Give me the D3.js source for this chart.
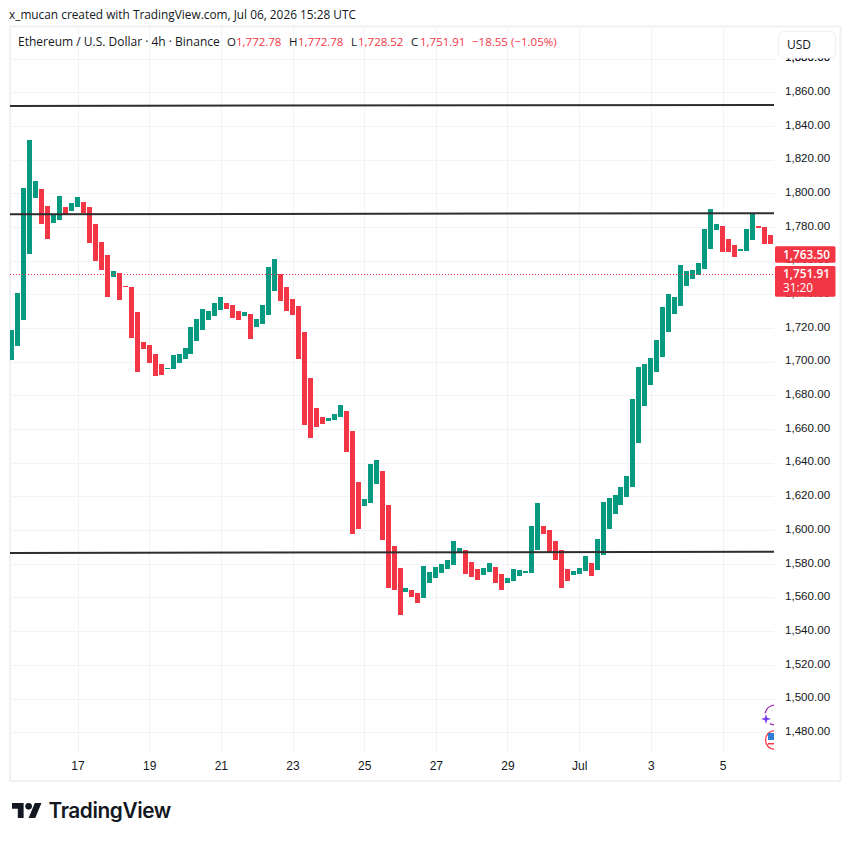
<!DOCTYPE html>
<html lang='en'>
<head>
    <meta charset='UTF-8'>
    <title>ETHUSD 4h</title>
    <style>
        html, body { margin: 0; padding: 0; background: #fff; }
        svg { display: block; font-family: 'Open Sans', sans-serif; }
    </style>
</head>
<body>
    <div id='anchor'></div>
    <script src='https://cdnjs.cloudflare.com/ajax/libs/d3/7.8.5/d3.min.js'></script>
    <script>
        // 4h bars, the first one opens Jun 15 2026 04:00 UTC
        const opens = [
            1701.0, 1709.3, 1724.8, 1764.0, 1797.2, 1802.6, 1792.5, 1782.4, 1784.2, 1791.9, 1789.5, 1791.9, 1794.8, 1791.9, 1781.8, 1771.1,
            1763.4, 1750.3, 1752.7, 1745.0, 1744.3, 1729.5, 1711.7, 1709.9, 1704.6, 1698.6, 1695.6, 1695.6, 1699.2, 1701.6, 1704.6, 1712.3,
            1718.8, 1724.8, 1727.1, 1730.7, 1734.9, 1733.7, 1730.1, 1727.1, 1728.3, 1720.6, 1722.4, 1727.7, 1742.0, 1752.1, 1744.4, 1737.2,
            1733.1, 1717.6, 1690.3, 1672.5, 1667.2, 1664.8, 1665.4, 1667.2, 1670.7, 1658.8, 1628.5, 1614.3, 1616.1, 1627.4, 1635.1, 1614.9,
            1590.5, 1577.5, 1563.2, 1564.4, 1562.6, 1559.6, 1568.5, 1571.5, 1574.5, 1576.9, 1579.2, 1586.4, 1588.2, 1581.0, 1576.9, 1573.3,
            1575.1, 1578.1, 1573.9, 1568.5, 1569.7, 1572.7, 1574.5, 1574.5, 1588.2, 1602.4, 1600.0, 1593.5, 1588.2, 1576.9, 1573.3, 1573.9,
            1575.7, 1580.4, 1576.3, 1585.2, 1600.6, 1609.5, 1614.9, 1619.6, 1625.6, 1651.7, 1673.7, 1686.2, 1693.9, 1702.8, 1717.7, 1728.3,
            1733.1, 1745.0, 1749.1, 1751.5, 1755.1, 1767.0, 1778.2, 1780.6, 1772.9, 1769.3, 1765.8, 1765.8, 1772.3, 1780.6, 1780.0, 1775.3
        ];
        const closes = [
            1718.8, 1740.8, 1803.2, 1831.7, 1807.3, 1781.8, 1772.9, 1787.7, 1798.4, 1787.7, 1794.2, 1797.8, 1788.1, 1770.5, 1759.8, 1754.4,
            1738.4, 1753.9, 1736.6, 1744.3, 1714.1, 1693.9, 1707.5, 1699.2, 1691.5, 1692.1, 1696.2, 1704.0, 1704.6, 1708.1, 1720.6, 1725.3,
            1731.3, 1730.1, 1734.9, 1738.4, 1731.3, 1725.9, 1724.8, 1729.5, 1713.4, 1725.3, 1733.7, 1756.2, 1761.0, 1736.1, 1730.1, 1727.7,
            1701.6, 1662.4, 1654.7, 1661.2, 1663.0, 1666.6, 1668.9, 1674.3, 1646.4, 1597.7, 1600.6, 1618.4, 1639.2, 1641.6, 1594.1, 1565.6,
            1564.4, 1549.5, 1565.6, 1560.2, 1556.7, 1578.7, 1575.1, 1578.1, 1579.8, 1582.2, 1593.5, 1589.3, 1573.9, 1572.1, 1570.3, 1577.5,
            1580.4, 1568.5, 1564.4, 1571.5, 1576.9, 1576.3, 1575.7, 1602.4, 1616.1, 1597.6, 1586.4, 1582.2, 1565.6, 1569.7, 1575.7, 1577.5,
            1584.6, 1572.7, 1594.7, 1616.7, 1619.0, 1620.8, 1625.6, 1632.1, 1677.9, 1696.9, 1698.6, 1702.2, 1712.9, 1732.5, 1740.2, 1738.4,
            1757.4, 1753.9, 1754.5, 1758.6, 1778.8, 1790.7, 1781.8, 1765.2, 1765.2, 1762.2, 1767.0, 1778.8, 1788.3, 1779.4, 1769.9, 1769.9
        ];

        const priceTicks = d3.range(1480, 1881, 20);
        const dayTicks = ['2026-06-17', '2026-06-19', '2026-06-21', '2026-06-23', '2026-06-25', '2026-06-27', '2026-06-29', '2026-07-01', '2026-07-03', '2026-07-05'];

        // hand drawn lines: price at the left and right pane edge
        const levels = [[1851.9, 1852.5], [1787.5, 1788.2], [1586.4, 1587.2]];

        const lastPrice = 1751.91;
        const prevLabel = 1763.50;
        const countdown = '31:20';

        const legendParts = [
            ['Ethereum / U.S. Dollar · 4h · Binance', 18, '#131722', 12],
            ['O', 227, '#131722', 11.5], ['1,772.78', 236, '#f23645', 11.5],
            ['H', 289, '#131722', 11.5], ['1,772.78', 298, '#f23645', 11.5],
            ['L', 351, '#131722', 11.5], ['1,728.52', 358, '#f23645', 11.5],
            ['C', 411, '#131722', 11.5], ['1,751.91', 420, '#f23645', 11.5],
            ['−18.55', 472, '#f23645', 11.5], ['(−1.05%)', 511, '#f23645', 11.5]
        ];

        const green = '#089981', red = '#f23645', grid = '#f2f3f6', ink = '#131722';
        const pane = { left: 10, right: 774, top: 27, bottom: 752 };

        const parseDay = d3.utcParse('%Y-%m-%d');
        const start = Date.UTC(2026, 5, 15, 4);
        const barTime = i => new Date(start + i * 4 * 3600 * 1000);

        const x = d3.scaleUtc()
            .domain([parseDay('2026-06-17'), parseDay('2026-07-05')])
            .range([77.5, 722.5]);
        const y = d3.scaleLinear().domain([1480, 1880]).range([732.2, 58.6]);

        const svg = d3.select('#anchor').append('svg')
            .attr('width', 850)
            .attr('height', 841);

        svg.append('text')
            .attr('x', 9).attr('y', 19)
            .attr('font-size', 11.85).attr('fill', ink)
            .text('x_mucan created with TradingView.com, Jul 06, 2026 15:28 UTC');

        svg.append('defs').append('clipPath').attr('id', 'pane').append('rect')
            .attr('x', pane.left).attr('y', pane.top)
            .attr('width', pane.right - pane.left).attr('height', pane.bottom - pane.top);

        // frame
        svg.append('rect')
            .attr('x', 10).attr('y', 26.5).attr('width', 830.5).attr('height', 754.5)
            .attr('fill', 'none').attr('stroke', '#f0f1f4').attr('stroke-width', 2);

        const plot = svg.append('g').attr('clip-path', 'url(#pane)');

        plot.append('g').selectAll('line')
            .data(priceTicks.concat(1880))
            .join('line')
            .attr('x1', pane.left).attr('x2', pane.right)
            .attr('y1', d => Math.round(y(d)) + 0.5).attr('y2', d => Math.round(y(d)) + 0.5)
            .attr('stroke', grid);

        plot.append('g').selectAll('line')
            .data(dayTicks.map(parseDay))
            .join('line')
            .attr('x1', d => Math.round(x(d)) + 0.5).attr('x2', d => Math.round(x(d)) + 0.5)
            .attr('y1', pane.top).attr('y2', pane.bottom)
            .attr('stroke', grid);

        plot.append('g').selectAll('rect')
            .data(opens.map((o, i) => ({ t: barTime(i), o: o, c: closes[i] })))
            .join('rect')
            .attr('x', d => Math.round(x(d.t) - 2.5))
            .attr('width', 5)
            .attr('y', d => y(Math.max(d.o, d.c)))
            .attr('height', d => Math.abs(y(d.o) - y(d.c)))
            .attr('fill', d => d.c >= d.o ? green : red)
            .attr('shape-rendering', 'crispEdges');

        plot.append('line')
            .attr('x1', pane.left).attr('x2', pane.right)
            .attr('y1', Math.round(y(lastPrice)) + 0.5).attr('y2', Math.round(y(lastPrice)) + 0.5)
            .attr('stroke', red).attr('stroke-dasharray', '1 2');

        plot.append('g').selectAll('line')
            .data(levels)
            .join('line')
            .attr('x1', pane.left).attr('x2', pane.right)
            .attr('y1', d => y(d[0])).attr('y2', d => y(d[1]))
            .attr('stroke', '#2e2e2e').attr('stroke-width', 2);

        // corner badges of the chart, cut by the price scale
        const badges = plot.append('g');
        badges.append('circle')
            .attr('cx', 775).attr('cy', 715).attr('r', 10)
            .attr('fill', '#fff').attr('stroke', '#9c27b0').attr('stroke-width', 1.2);
        badges.append('circle')
            .attr('cx', 766).attr('cy', 719).attr('r', 6).attr('fill', '#fff');
        badges.append('path')
            .attr('transform', 'translate(766,719)')
            .attr('d', 'M0,-5 L1.2,-1.2 L5,0 L1.2,1.2 L0,5 L-1.2,1.2 L-5,0 L-1.2,-1.2 Z')
            .attr('fill', '#7b3ff2');
        badges.append('circle')
            .attr('cx', 775).attr('cy', 740).attr('r', 9.5)
            .attr('fill', '#fff').attr('stroke', '#f23645').attr('stroke-width', 1.3);
        badges.append('rect')
            .attr('x', 768).attr('y', 733).attr('width', 6).attr('height', 7).attr('fill', '#2f7fd8');
        badges.append('rect')
            .attr('x', 768).attr('y', 743).attr('width', 6).attr('height', 1.5).attr('fill', '#f23645');

        const legend = svg.append('g');
        legend.selectAll('text')
            .data(legendParts)
            .join('text')
            .attr('x', d => d[1]).attr('y', 46)
            .attr('font-size', d => d[3])
            .attr('fill', d => d[2])
            .text(d => d[0]);

        // price scale
        const yAxis = d3.axisRight(y)
            .tickValues(priceTicks.concat(1880))
            .tickSize(0)
            .tickPadding(0)
            .tickFormat(d3.format(',.2f'));
        svg.append('g')
            .attr('transform', 'translate(785,-1.5)')
            .call(yAxis)
            .call(g => g.select('.domain').remove())
            .call(g => g.selectAll('text').attr('font-size', 11.6).attr('fill', ink).attr('font-family', null));

        // time scale
        const xAxis = d3.axisBottom(x)
            .tickValues(dayTicks.map(parseDay))
            .tickSize(0)
            .tickPadding(0)
            .tickFormat(d => d.getUTCDate() === 1 ? 'Jul' : d.getUTCDate());
        svg.append('g')
            .attr('transform', 'translate(0,761)')
            .call(xAxis)
            .call(g => g.select('.domain').remove())
            .call(g => g.selectAll('text').attr('font-size', 12).attr('fill', ink).attr('font-family', null));

        // currency button
        const usd = svg.append('g');
        usd.append('rect')
            .attr('x', 778.5).attr('y', 31.5).attr('width', 57).attr('height', 26.5).attr('rx', 5)
            .attr('fill', '#fff').attr('stroke', '#eff0f3');
        usd.append('text')
            .attr('x', 787).attr('y', 49).attr('font-size', 12).attr('fill', ink).text('USD');

        // price badges
        const tags = [
            { top: y(prevLabel) - 8.5, h: 16.5, rows: [d3.format(',.2f')(prevLabel)] },
            { top: y(lastPrice) - 8.3, h: 30.7, rows: [d3.format(',.2f')(lastPrice), countdown] }
        ];
        const tag = svg.append('g').selectAll('g').data(tags).join('g');
        tag.append('rect')
            .attr('x', 775).attr('width', 60.5)
            .attr('y', d => d.top).attr('height', d => d.h).attr('rx', 1.5)
            .attr('fill', red);
        tag.each(function (d) {
            d3.select(this).selectAll('text')
                .data(d.rows)
                .join('text')
                .attr('x', 783)
                .attr('y', (r, i) => d.top + 12.3 + i * 14)
                .attr('font-size', 11.8)
                .attr('font-weight', (r, i) => i === 0 ? 600 : 400)
                .attr('fill', '#fff')
                .text(r => r);
        });

        // logo
        const logo = svg.append('g').attr('transform', 'translate(12,797.2) scale(0.83)').attr('fill', '#131722');
        logo.append('path').attr('d', 'M14 25H7V14H0V7h14v18zM28 25h-8l7.5-18h8L28 25z');
        logo.append('circle').attr('cx', 20).attr('cy', 11).attr('r', 4);
        svg.append('text')
            .attr('x', 48.5).attr('y', 818)
            .attr('font-family', 'Inter, sans-serif')
            .attr('font-size', 20.8).attr('font-weight', 600).attr('letter-spacing', -0.4)
            .attr('fill', '#131722')
            .text('TradingView');
    </script>
</body>
</html>
